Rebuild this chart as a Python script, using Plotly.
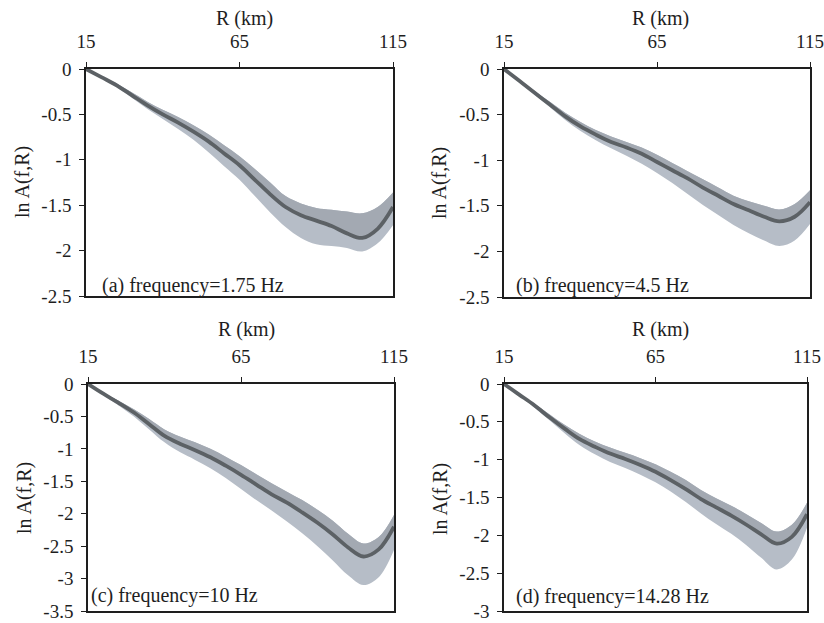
import plotly.graph_objects as go

W, H = 824, 623

R = [15, 20, 25, 30, 35, 40, 45, 50, 55, 60, 65, 70, 75, 80, 85, 90, 95, 100, 105, 110, 115]

mean_a = [0, -0.09, -0.18, -0.29, -0.40, -0.50, -0.59, -0.69, -0.80, -0.93, -1.06, -1.22, -1.38, -1.52, -1.61, -1.67, -1.73, -1.81, -1.86, -1.76, -1.52]
upper_a = [0, -0.08, -0.16, -0.26, -0.36, -0.45, -0.53, -0.62, -0.72, -0.84, -0.96, -1.10, -1.25, -1.40, -1.48, -1.53, -1.55, -1.57, -1.59, -1.52, -1.36]
lower_a = [0, -0.10, -0.20, -0.32, -0.44, -0.55, -0.66, -0.78, -0.92, -1.07, -1.22, -1.40, -1.58, -1.74, -1.86, -1.93, -1.95, -1.97, -2.01, -1.92, -1.72]

mean_b = [0, -0.13, -0.26, -0.39, -0.52, -0.63, -0.72, -0.80, -0.86, -0.93, -1.02, -1.11, -1.20, -1.30, -1.39, -1.48, -1.55, -1.62, -1.67, -1.62, -1.46]
upper_b = [0, -0.12, -0.24, -0.36, -0.48, -0.58, -0.67, -0.74, -0.80, -0.86, -0.94, -1.03, -1.12, -1.21, -1.30, -1.39, -1.45, -1.50, -1.54, -1.48, -1.33]
lower_b = [0, -0.14, -0.28, -0.42, -0.56, -0.68, -0.78, -0.87, -0.95, -1.04, -1.14, -1.25, -1.37, -1.49, -1.60, -1.71, -1.80, -1.88, -1.94, -1.88, -1.70]

mean_c = [0, -0.15, -0.29, -0.44, -0.62, -0.80, -0.92, -1.02, -1.13, -1.26, -1.40, -1.55, -1.70, -1.83, -1.98, -2.14, -2.32, -2.52, -2.66, -2.55, -2.20]
upper_c = [0, -0.13, -0.26, -0.39, -0.54, -0.70, -0.81, -0.90, -1.00, -1.12, -1.25, -1.39, -1.53, -1.66, -1.79, -1.94, -2.11, -2.31, -2.46, -2.36, -2.02]
lower_c = [0, -0.17, -0.33, -0.50, -0.70, -0.90, -1.05, -1.17, -1.30, -1.45, -1.62, -1.79, -1.95, -2.12, -2.30, -2.50, -2.72, -2.95, -3.10, -2.98, -2.56]

mean_d = [0, -0.14, -0.28, -0.44, -0.59, -0.73, -0.83, -0.92, -0.99, -1.07, -1.16, -1.27, -1.39, -1.52, -1.63, -1.74, -1.86, -1.99, -2.11, -2.02, -1.72]
upper_d = [0, -0.13, -0.26, -0.40, -0.54, -0.66, -0.76, -0.84, -0.91, -0.98, -1.06, -1.16, -1.27, -1.40, -1.51, -1.61, -1.72, -1.84, -1.95, -1.86, -1.57]
lower_d = [0, -0.15, -0.31, -0.48, -0.65, -0.81, -0.93, -1.03, -1.11, -1.20, -1.30, -1.42, -1.56, -1.71, -1.85, -1.98, -2.13, -2.30, -2.45, -2.32, -1.90]

panel_labels = ["(a) frequency=1.75 Hz", "(b) frequency=4.5 Hz", "(c) frequency=10 Hz", "(d) frequency=14.28 Hz"]
x_ticks = [15, 65, 115]
x_ticktext = ["15", "65", "115"]
y_ticks_ab = [0, -0.5, -1, -1.5, -2, -2.5]
y_ticktext_ab = ["0", "-0.5", "-1", "-1.5", "-2", "-2.5"]
y_ticks_c = [0, -0.5, -1, -1.5, -2, -2.5, -3, -3.5]
y_ticktext_c = ["0", "-0.5", "-1", "-1.5", "-2", "-2.5", "-3", "-3.5"]
y_ticks_d = [0, -0.5, -1, -1.5, -2, -2.5, -3]
y_ticktext_d = ["0", "-0.5", "-1", "-1.5", "-2", "-2.5", "-3"]
x_title = "R (km)"
y_title = "ln A(f,R)"

FONT = "Liberation Serif, Times New Roman, serif"
TXT = "#1e1e1e"
OUTER = "#b6bdc7"
INNER = "#a3a9b2"
LINE = "#5c6165"

# pixel boxes: (left, right, top, bottom)
boxes = [(86, 393, 69, 296), (504, 810, 69, 297), (88, 394, 384, 611), (504, 807, 384, 611)]
series = [(mean_a, upper_a, lower_a), (mean_b, upper_b, lower_b),
          (mean_c, upper_c, lower_c), (mean_d, upper_d, lower_d)]
yranges = [[-2.5, 0], [-2.5, 0], [-3.5, 0], [-3, 0]]
yticks = [(y_ticks_ab, y_ticktext_ab), (y_ticks_ab, y_ticktext_ab), (y_ticks_c, y_ticktext_c), (y_ticks_d, y_ticktext_d)]
xtitle_pos = [(245, 18), (660, 18), (247, 329), (660, 329)]
ytitle_pos = [(22, 182), (440, 183), (24, 498), (440, 499)]
label_pos = [(100, 285), (514, 285), (89, 595), (514, 596)]

fig = go.Figure()
layout = dict(width=W, height=H, margin=dict(l=0, r=0, t=0, b=0, autoexpand=False),
              paper_bgcolor="white", plot_bgcolor="white", showlegend=False,
              font=dict(family=FONT, size=19, color=TXT))
annotations = []

for i in range(4):
    xa = "x" if i == 0 else f"x{i+1}"
    ya = "y" if i == 0 else f"y{i+1}"
    m, up, lo = series[i]
    fig.add_trace(go.Scatter(x=R, y=up, mode="lines", line=dict(width=0, shape="spline", color=OUTER),
                             xaxis=xa, yaxis=ya, hoverinfo="skip"))
    fig.add_trace(go.Scatter(x=R, y=lo, mode="lines", line=dict(width=0, shape="spline", color=OUTER),
                             fill="tonexty", fillcolor=OUTER, xaxis=xa, yaxis=ya, hoverinfo="skip"))
    fig.add_trace(go.Scatter(x=R, y=up, mode="lines", line=dict(width=0, shape="spline", color=INNER),
                             xaxis=xa, yaxis=ya, hoverinfo="skip"))
    fig.add_trace(go.Scatter(x=R, y=m, mode="lines", line=dict(width=0, shape="spline", color=INNER),
                             fill="tonexty", fillcolor=INNER, xaxis=xa, yaxis=ya, hoverinfo="skip"))
    fig.add_trace(go.Scatter(x=R, y=m, mode="lines", line=dict(width=3.8, shape="spline", color=LINE),
                             xaxis=xa, yaxis=ya))

    l, r, t, b = boxes[i]
    xkey = "xaxis" if i == 0 else f"xaxis{i+1}"
    ykey = "yaxis" if i == 0 else f"yaxis{i+1}"
    layout[xkey] = dict(domain=[l / W, r / W], anchor=ya, side="top", range=[15, 115],
                        tickvals=x_ticks, ticktext=x_ticktext, ticks="outside", ticklen=5,
                        tickcolor=TXT, showline=True, linecolor=TXT, linewidth=1.5, mirror=True,
                        showgrid=False, zeroline=False, ticklabelstandoff=7, automargin=False,
                        ticklabeloverflow="allow",
                        tickfont=dict(family=FONT, size=19, color=TXT))
    layout[ykey] = dict(domain=[1 - b / H, 1 - t / H], anchor=xa, range=yranges[i],
                        tickvals=yticks[i][0], ticktext=yticks[i][1], ticks="outside", ticklen=5,
                        tickcolor=TXT, showline=True, linecolor=TXT, linewidth=1.5, mirror=True,
                        showgrid=False, zeroline=False, ticklabelstandoff=4, automargin=False,
                        ticklabeloverflow="allow",
                        tickfont=dict(family=FONT, size=19, color=TXT))
    px, py = xtitle_pos[i]
    annotations.append(dict(text=x_title, x=px / W, y=1 - py / H, xref="paper", yref="paper",
                            showarrow=False, xanchor="center", yanchor="middle",
                            font=dict(family=FONT, size=20, color=TXT)))
    px, py = ytitle_pos[i]
    annotations.append(dict(text=y_title, x=px / W, y=1 - py / H, xref="paper", yref="paper",
                            showarrow=False, xanchor="center", yanchor="middle", textangle=-90,
                            font=dict(family=FONT, size=20, color=TXT)))
    px, py = label_pos[i]
    annotations.append(dict(text=panel_labels[i], x=px / W, y=1 - py / H, xref="paper", yref="paper",
                            showarrow=False, xanchor="left", yanchor="middle",
                            font=dict(family=FONT, size=20, color=TXT)))

layout["annotations"] = annotations
fig.update_layout(**layout)
fig.write_html("out.html")
